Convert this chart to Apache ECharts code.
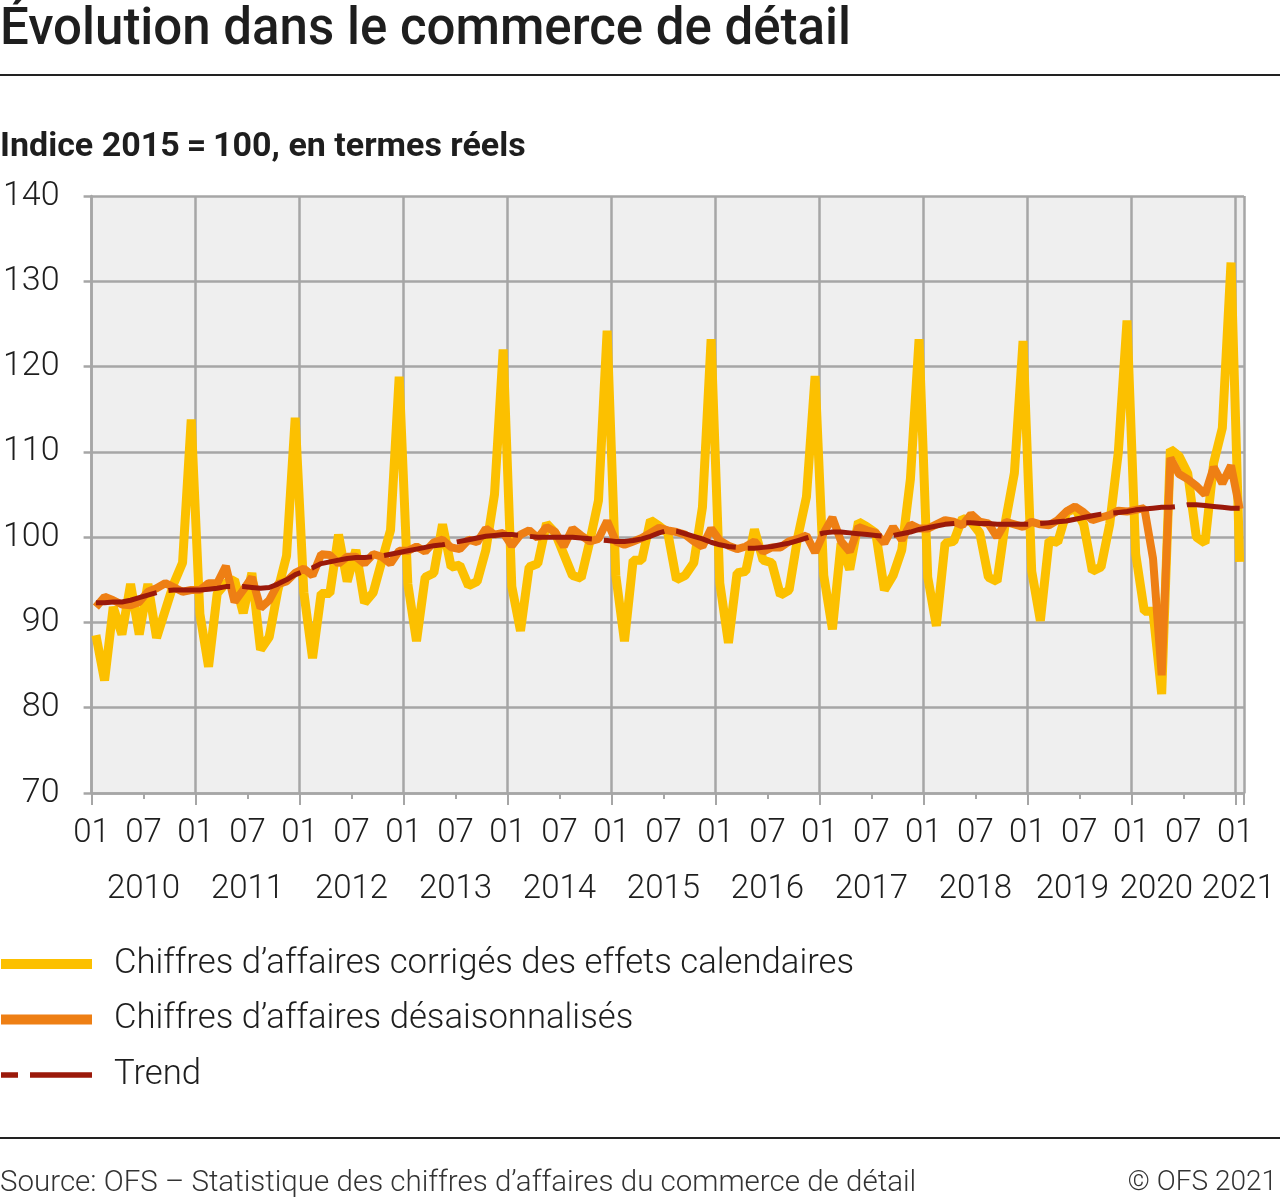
<!DOCTYPE html>
<html><head><meta charset="utf-8">
<script src="https://cdn.jsdelivr.net/npm/echarts@6.0.0/dist/echarts.min.js"></script>
<style>html,body{margin:0;padding:0;background:#fff}#c{width:1280px;height:1201px}</style>
</head><body><div id="c"></div><script>
const titleText = 'Évolution dans le commerce de détail';
const subtitleText = 'Indice 2015\u2009=\u2009100, en termes réels';
const sourceText = 'Source: OFS \u2013 Statistique des chiffres d\u2019affaires du commerce de détail';
const copyrightText = '\u00a9 OFS 2021';
const seriesNames = ['Chiffres d\u2019affaires corrigés des effets calendaires', 'Chiffres d\u2019affaires désaisonnalisés', 'Trend'];
const yearLabels = ['2010','2011','2012','2013','2014','2015','2016','2017','2018','2019','2020','2021'];
const monthLabels = ['01','07'];

// Monthly values, Jan 2010 .. Jan 2021
const calendarAdjusted = [
  88.5, 83.2, 91.8, 88.6, 94.5, 88.6, 94.5, 88.2, 91.4, 94.6, 97.0, 113.8,
  91.0, 84.8, 93.4, 94.6, 95.0, 91.1, 95.8, 86.8, 88.3, 93.8, 97.8, 114.0,
  93.5, 85.8, 93.4, 93.4, 100.3, 94.8, 98.5, 92.3, 93.5, 97.2, 100.8, 118.8,
  94.5, 87.8, 95.3, 95.8, 101.5, 96.5, 96.7, 94.3, 94.8, 98.5, 105.0, 122.0,
  94.2, 89.0, 96.5, 96.9, 101.6, 100.5, 98.0, 95.5, 95.2, 99.5, 104.3, 124.2,
  95.5, 87.8, 97.3, 97.3, 102.0, 101.3, 100.5, 95.0, 95.5, 97.0, 103.5, 123.2,
  94.6, 87.6, 95.8, 96.0, 100.9, 97.3, 97.0, 93.2, 93.8, 100.0, 104.7, 118.9,
  95.5, 89.2, 99.3, 96.2, 101.8, 101.2, 100.5, 93.8, 95.5, 98.5, 106.8, 123.2,
  95.3, 89.6, 99.3, 99.5, 102.2, 101.8, 100.5, 95.3, 94.8, 102.0, 107.5, 123.0,
  96.0, 90.2, 99.6, 99.4, 102.9, 103.4, 101.5, 96.0, 96.5, 101.5, 110.0, 125.4,
  98.0, 91.3, 91.3, 81.6, 110.3, 109.5, 107.5, 100.0, 99.3, 108.7, 112.8, 132.2,
  97.1
];
const seasonallyAdjusted = [
  91.8, 93.0, 92.6, 92.1, 92.0, 92.4, 93.6, 94.0, 94.6, 94.1, 93.6, 93.8,
  93.8, 94.6, 94.6, 96.6, 92.4, 93.8, 95.3, 91.7, 92.6, 94.5, 94.8, 95.8,
  96.3, 95.5, 98.0, 97.9, 96.9, 97.7, 97.7, 96.9, 98.0, 97.7, 96.9, 98.4,
  98.4, 98.9, 98.3, 99.4, 99.7, 98.8, 98.6, 99.7, 99.4, 101.0, 100.3, 100.5,
  99.0, 100.3, 100.8, 99.9, 101.2, 100.6, 98.9, 101.0, 100.2, 99.5, 99.8, 101.9,
  99.5, 99.1, 99.5, 99.9, 100.5, 101.1, 100.8, 100.6, 100.3, 99.5, 98.9, 101.0,
  99.6, 99.0, 98.6, 98.9, 99.5, 98.3, 98.8, 98.8, 99.5, 99.8, 100.2, 98.2,
  100.5, 102.3, 99.5, 98.3, 101.2, 100.8, 100.5, 99.3, 101.2, 99.7, 101.5, 101.0,
  101.0, 101.5, 102.0, 101.8, 101.4, 102.7, 101.8, 101.6, 100.0, 101.8, 101.5, 101.2,
  101.8, 101.5, 101.4, 102.0, 103.0, 103.6, 102.9, 102.0, 102.3, 102.6, 103.1, 103.0,
  103.2, 103.4, 97.5, 83.8, 109.3, 107.4, 106.8, 106.0, 105.0, 108.2, 106.3, 108.4,
  103.3
];
const trend = [
  92.3, 92.3, 92.4, 92.4, 92.6, 92.9, 93.2, 93.5, 93.7, 93.8, 93.8, 93.8,
  93.8, 93.9, 94.0, 94.2, 94.2, 94.2, 94.1, 94.0, 94.1, 94.5, 95.0, 95.6,
  96.0, 96.4, 96.9, 97.1, 97.3, 97.5, 97.6, 97.6, 97.7, 97.8, 98.0, 98.2,
  98.4, 98.6, 98.8, 99.0, 99.1, 99.3, 99.5, 99.7, 99.9, 100.1, 100.2, 100.3,
  100.3, 100.2, 100.1, 100.0, 100.0, 100.0, 100.0, 100.0, 99.9, 99.8, 99.7, 99.6,
  99.5, 99.5, 99.6, 99.8, 100.1, 100.5, 100.8, 100.7, 100.4, 100.1, 99.8, 99.4,
  99.1, 98.9, 98.8, 98.7, 98.7, 98.8, 98.9, 99.1, 99.3, 99.6, 99.9, 100.2,
  100.5, 100.6, 100.6, 100.5, 100.4, 100.3, 100.2, 100.1, 100.2, 100.4, 100.6, 100.9,
  101.1, 101.3, 101.5, 101.6, 101.7, 101.7, 101.6, 101.6, 101.5, 101.5, 101.5, 101.5,
  101.5, 101.6, 101.7, 101.8, 101.9, 102.1, 102.3, 102.5, 102.7, 102.8, 102.9, 103.0,
  103.2, 103.3, 103.4, 103.5, 103.5, 103.6, 103.8, 103.8, 103.7, 103.6, 103.5, 103.4,
  103.4
];

const FONT = 'Roboto';
const TXT = '#1e1e1e';
const GRID = '#a6a6a6';
const nMonths = trend.length; // 133
const toXY = arr => arr.map((v, i) => [i + 0.5, v]);
const labelFont = {fontFamily: FONT, fontSize: 33, fontWeight: 300, color: TXT};

const chart = echarts.init(document.getElementById('c'), null, {renderer: 'canvas'});
const option = {
  animation: false,
  backgroundColor: '#ffffff',
  textStyle: {fontFamily: FONT},
  title: [
    {text: titleText, left: 0, top: 6, padding: 0,
     textStyle: {fontFamily: FONT, fontSize: 51, fontWeight: 500, color: TXT}},
    {text: subtitleText, left: 0, top: 130, padding: 0,
     textStyle: {fontFamily: FONT, fontSize: 34, fontWeight: 'bold', color: TXT}},
    {text: sourceText, left: 0, top: 1169, padding: 0,
     textStyle: {fontFamily: FONT, fontSize: 29.5, fontWeight: 300, color: '#333'}},
    {text: copyrightText, right: 3, top: 1169, padding: 0,
     textStyle: {fontFamily: FONT, fontSize: 28, fontWeight: 300, color: '#333'}}
  ],
  graphic: [
    {type: 'line', shape: {x1: 0, y1: 75, x2: 1280, y2: 75}, style: {stroke: '#222', lineWidth: 2}},
    {type: 'line', shape: {x1: 0, y1: 1138, x2: 1280, y2: 1138}, style: {stroke: '#222', lineWidth: 2}}
  ],
  legend: {
    orient: 'vertical', left: -4, top: 944, padding: 0,
    itemWidth: 91, itemHeight: 14, itemGap: 15.5,
    textStyle: {fontFamily: FONT, fontSize: 34.7, fontWeight: 300, color: TXT, lineHeight: 40, padding: [0, 0, 0, 17]},
    data: [
      {name: seriesNames[0], itemStyle: {opacity: 0}, lineStyle: {width: 10}},
      {name: seriesNames[1], itemStyle: {opacity: 0}, lineStyle: {width: 10}},
      {name: seriesNames[2], itemStyle: {opacity: 0}, lineStyle: {width: 5.5, dashOffset: 45}}
    ]
  },
  grid: {left: 90, right: 36, top: 196, bottom: 408, show: true, backgroundColor: '#efefef', borderWidth: 0},
  xAxis: [
    {type: 'value', min: 0, max: nMonths, interval: 12,
     axisLine: {show: true, lineStyle: {color: GRID, width: 2.5}},
     axisTick: {show: true, length: 12, lineStyle: {color: GRID, width: 2}},
     minorTick: {show: true, splitNumber: 2, length: 6, lineStyle: {color: GRID, width: 2}},
     splitLine: {show: true, lineStyle: {color: GRID, width: 2.5}},
     axisLabel: {show: false}},
    {type: 'value', min: 0, max: nMonths, interval: 6, position: 'bottom',
     axisLine: {show: false}, axisTick: {show: false}, splitLine: {show: false},
     axisLabel: Object.assign({margin: 24,
       formatter: v => (v % 6 === 0 && v < nMonths) ? monthLabels[(v / 6) % 2] : ''}, labelFont)},
    {type: 'value', min: 0, max: nMonths, interval: 6, position: 'bottom', offset: 56,
     axisLine: {show: false}, axisTick: {show: false}, splitLine: {show: false},
     axisLabel: Object.assign({margin: 24,
       formatter: v => {
         if (v % 12 === 6) {
           const k = (v - 6) / 12;
           const y = yearLabels[k];
           if (k === 9) return '{a|' + y + '}';
           if (k === 10) return '{b|' + y + '}';
           return y;
         }
         return v === nMonths - 1 ? '{c|' + yearLabels[yearLabels.length - 1] + '}' : '';
       },
       rich: {
         a: Object.assign({padding: [0, 14, 0, 0]}, labelFont),
         b: Object.assign({padding: [0, 54, 0, 0]}, labelFont),
         c: Object.assign({padding: [0, 0, 0, 6]}, labelFont)
       }}, labelFont)}
  ],
  yAxis: {
    type: 'value', min: 70, max: 140, interval: 10,
    axisLine: {show: true, lineStyle: {color: GRID, width: 2.5}},
    axisTick: {show: true, length: 8, lineStyle: {color: GRID, width: 2.5}},
    splitLine: {show: true, lineStyle: {color: GRID, width: 2.5}},
    axisLabel: {fontFamily: FONT, fontSize: 34, fontWeight: 300, color: TXT, margin: 32}
  },
  series: [
    {name: seriesNames[0], type: 'line', xAxisIndex: 0, data: toXY(calendarAdjusted), symbol: 'none',
     lineStyle: {color: '#fcc000', width: 9}, itemStyle: {color: '#fcc000'}, z: 2},
    {name: seriesNames[1], type: 'line', xAxisIndex: 0, data: toXY(seasonallyAdjusted), symbol: 'none',
     lineStyle: {color: '#ee7f14', width: 8}, itemStyle: {color: '#ee7f14'}, z: 3},
    {name: seriesNames[2], type: 'line', xAxisIndex: 0, data: toXY(trend), symbol: 'none',
     lineStyle: {color: '#9b190a', width: 5, type: [62, 12]}, itemStyle: {color: '#9b190a'}, z: 4}
  ]
};
chart.setOption(option);
</script></body></html>
